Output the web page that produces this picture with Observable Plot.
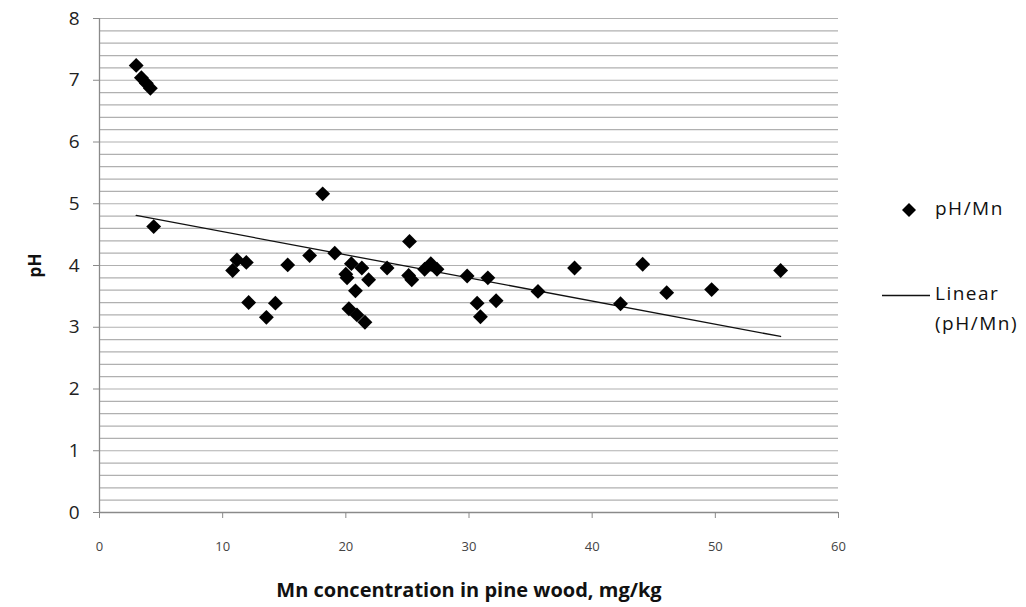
<!DOCTYPE html>
<html>
<head>
<meta charset="utf-8">
<script src="https://cdn.jsdelivr.net/npm/d3@7"></script>
<script src="https://cdn.jsdelivr.net/npm/@observablehq/plot@0.6"></script>
<style>
  body { margin: 0; background: #fff; }
  #wrap { position: relative; width: 1026px; height: 607px; font-family: "Open Sans", sans-serif; }
  .legend { position: absolute; color: #111; font-size: 19px; line-height: 30px; letter-spacing: 1.5px; white-space: nowrap; }
  .key { position: absolute; }
</style>
</head>
<body>
<div id="wrap"></div>
<script>
// Mn concentration in pine wood (mg/kg) and the matching pH readings
const mn = [2.98, 3.4, 3.8, 4.13, 4.4, 18.12, 10.81, 11.16, 11.92, 12.11, 13.55, 14.28, 15.28,
  17.06, 19.1, 20.0, 20.45, 20.1, 21.3, 21.85, 20.78, 20.25, 20.9, 21.55, 23.35, 25.17, 25.1,
  25.35, 26.4, 26.9, 27.4, 29.85, 31.53, 30.66, 30.93, 32.2, 35.6, 38.57, 44.1, 42.3, 46.05,
  49.7, 55.3];
const pH = [7.24, 7.04, 6.95, 6.87, 4.63, 5.16, 3.92, 4.09, 4.05, 3.40, 3.16, 3.39, 4.01,
  4.16, 4.20, 3.86, 4.03, 3.80, 3.96, 3.77, 3.59, 3.30, 3.20, 3.08, 3.96, 4.39, 3.84,
  3.77, 3.94, 4.03, 3.94, 3.83, 3.80, 3.39, 3.17, 3.43, 3.58, 3.96, 4.02, 3.38, 3.56,
  3.61, 3.92];

// Linear trend pH = intercept + slope * Mn, drawn across the range of Mn values
const trendIntercept = 4.922;
const trendSlope = -0.03746;

const xTicks = [0, 10, 20, 30, 40, 50, 60];
const yTicks = [0, 1, 2, 3, 4, 5, 6, 7, 8];
const yGrid = d3.range(0, 41).map(i => i / 5);

const data = mn.map((v, i) => ({mn: v, pH: pH[i]}));
const trend = d3.extent(mn).map(v => ({mn: v, pH: trendIntercept + trendSlope * v}));

const chart = Plot.plot({
  width: 1026,
  height: 607,
  marginLeft: 99,
  marginRight: 188,
  marginTop: 18,
  marginBottom: 95,
  x: {domain: [0, 60]},
  y: {domain: [0, 8]},
  style: {fontFamily: "Open Sans, sans-serif", background: "#fff", color: "#222"},
  marks: [
    Plot.gridY(yGrid, {stroke: "#b0b0b0", strokeOpacity: 1, strokeWidth: 1.2}),
    Plot.ruleX([0], {stroke: "#8a8a8a", strokeWidth: 1.3}),
    Plot.ruleY([0], {stroke: "#8a8a8a", strokeWidth: 1.3}),
    Plot.axisY(yTicks, {tickSize: 6, tickPadding: 14, fontSize: 19, fill: "#222", stroke: "#8a8a8a", tickFormat: "d", label: null}),
    Plot.axisX(xTicks, {tickSize: 6, tickPadding: 23, fontSize: 13, fill: "#444", stroke: "#8a8a8a", tickFormat: "d", label: null}),
    Plot.axisY([], {label: "pH", labelAnchor: "center", labelArrow: "none", labelOffset: 71, fontSize: 17, fontWeight: "bold", fill: "#111"}),
    Plot.axisX([], {label: "Mn concentration in pine wood, mg/kg", labelAnchor: "center", labelArrow: "none", labelOffset: 84, fontSize: 20, fontWeight: "bold", fill: "#111"}),
    Plot.line(trend, {x: "mn", y: "pH", stroke: "#111", strokeWidth: 1.3}),
    Plot.dot(data, {x: "mn", y: "pH", symbol: "diamond2", r: 6.7, fill: "#000", stroke: "none"})
  ]
});

const wrap = document.getElementById("wrap");
wrap.appendChild(chart);

// Legend to the right of the plot frame
function add(tag, cls, styles, html) {
  const el = document.createElement(tag);
  el.className = cls;
  Object.assign(el.style, styles);
  el.innerHTML = html;
  wrap.appendChild(el);
}
add("div", "key", {left: "902px", top: "200px"},
  `<svg width="14" height="14"><path d="M7,0L14,7L7,14L0,7Z" fill="#000"/></svg>`);
add("div", "legend", {left: "935px", top: "193px"}, "pH/Mn");
add("div", "key", {left: "882px", top: "294px"},
  `<svg width="48" height="3" style="display:block"><line x1="0" y1="1.5" x2="48" y2="1.5" stroke="#111" stroke-width="1.3"/></svg>`);
add("div", "legend", {left: "935px", top: "278px"}, "Linear");
add("div", "legend", {left: "935px", top: "308px"}, "(pH/Mn)");
</script>
</body>
</html>
